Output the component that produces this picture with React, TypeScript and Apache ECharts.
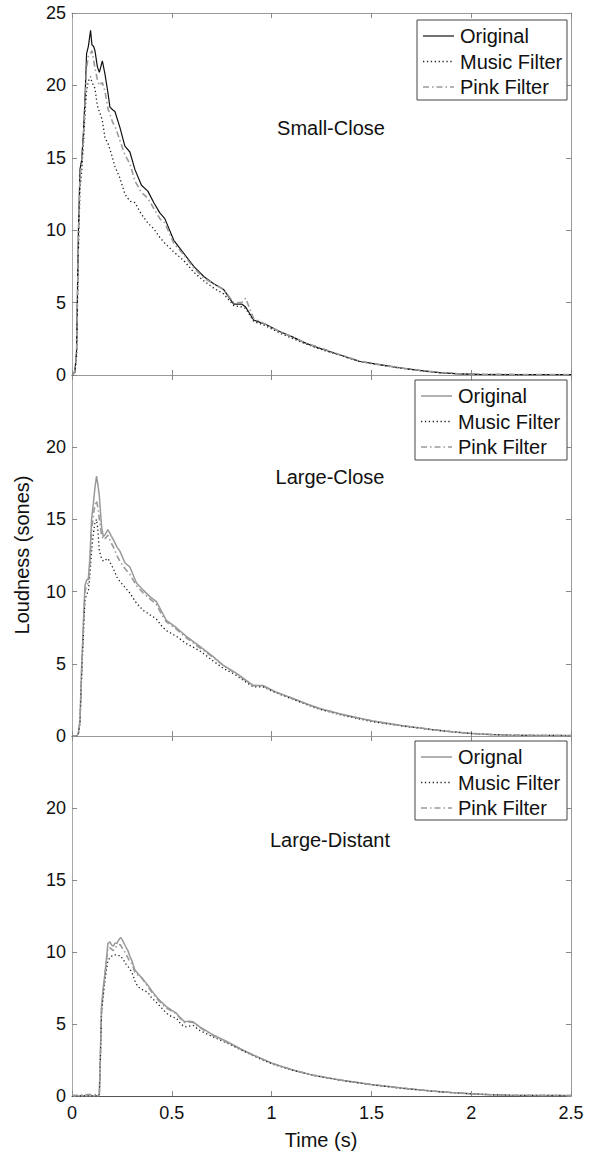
import React, { useEffect, useRef } from "react";
import * as echarts from "echarts";

// ---------- DATA ----------
const xTicks = [0, 0.5, 1, 1.5, 2, 2.5];
const yTicks = [0, 5, 10, 15, 20, 25];

const panelTitles = ["Small-Close", "Large-Close", "Large-Distant"];
const legendNames1 = ["Original", "Music Filter", "Pink Filter"];
const legendNames2 = ["Original", "Music Filter", "Pink Filter"];
const legendNames3 = ["Orignal", "Music Filter", "Pink Filter"];

// Panel 1: Small-Close
const t1 = [0, 0.005, 0.015, 0.023, 0.032, 0.04, 0.048, 0.057, 0.065, 0.073, 0.082, 0.093, 0.1, 0.108, 0.115, 0.127, 0.137, 0.152, 0.165, 0.18, 0.19, 0.205, 0.215, 0.24, 0.265, 0.29, 0.315, 0.348, 0.38, 0.41, 0.44, 0.465, 0.51, 0.56, 0.61, 0.66, 0.71, 0.76, 0.81, 0.85, 0.87, 0.91, 0.97, 1.04, 1.11, 1.17, 1.24, 1.34, 1.44, 1.54, 1.64, 1.74, 1.84, 1.94, 2.04, 2.2, 2.35, 2.5];
const sc_original = [0, 0, 0.3, 1.7, 9.8, 14.2, 14.8, 16.7, 19.0, 22.2, 22.7, 23.8, 22.8, 22.7, 22.4, 21.3, 20.9, 21.7, 20.8, 19.5, 18.5, 18.3, 18.2, 17.1, 15.8, 15.4, 14.2, 13.1, 12.7, 11.9, 11.2, 10.8, 9.3, 8.4, 7.5, 6.8, 6.3, 5.9, 4.9, 4.9, 4.7, 3.8, 3.5, 3.0, 2.6, 2.2, 1.85, 1.4, 0.95, 0.72, 0.5, 0.32, 0.17, 0.08, 0.04, 0.03, 0.03, 0.03];
const sc_music = [0, 0, 0.2, 1.3, 8.5, 12.8, 14.0, 15.8, 18.0, 19.6, 20.3, 20.6, 20.2, 20.0, 19.8, 18.6, 18.2, 17.6, 16.4, 16.0, 15.6, 14.9, 14.4, 13.6, 12.5, 12.0, 11.9, 11.1, 10.5, 10.1, 9.5, 9.1, 8.5, 7.9, 7.1, 6.5, 6.0, 5.6, 4.8, 4.7, 4.6, 3.7, 3.4, 2.9, 2.5, 2.15, 1.8, 1.38, 0.92, 0.7, 0.48, 0.3, 0.16, 0.08, 0.04, 0.03, 0.03, 0.03];
const sc_pink = [0, 0, 0.3, 1.6, 9.4, 13.8, 14.5, 16.3, 18.6, 21.2, 22.0, 22.2, 22.4, 21.8, 21.2, 20.4, 20.0, 20.2, 19.6, 18.4, 18.0, 17.4, 17.2, 16.2, 15.2, 14.6, 13.4, 12.6, 12.2, 11.5, 10.8, 10.5, 9.1, 8.3, 7.4, 6.7, 6.3, 5.9, 5.0, 5.0, 5.3, 3.9, 3.5, 3.0, 2.6, 2.2, 1.9, 1.42, 0.96, 0.73, 0.5, 0.33, 0.18, 0.09, 0.05, 0.04, 0.03, 0.03];

// Panel 2: Large-Close
const t2 = [0, 0.025, 0.032, 0.04, 0.048, 0.057, 0.065, 0.073, 0.082, 0.09, 0.098, 0.107, 0.115, 0.123, 0.13, 0.137, 0.148, 0.157, 0.168, 0.18, 0.195, 0.207, 0.225, 0.24, 0.265, 0.29, 0.323, 0.357, 0.39, 0.423, 0.45, 0.473, 0.523, 0.573, 0.64, 0.707, 0.757, 0.823, 0.907, 0.957, 1.02, 1.107, 1.17, 1.24, 1.35, 1.5, 1.65, 1.8, 1.9, 2.0, 2.1, 2.2, 2.35, 2.5];
const lc_original = [0, 0, 0.2, 1.1, 4.6, 7.8, 10.4, 10.8, 10.9, 12.4, 15.0, 16.1, 17.2, 18.0, 17.4, 16.6, 14.5, 13.8, 14.0, 14.3, 13.9, 13.6, 13.1, 12.8, 12.0, 11.7, 10.6, 10.1, 9.65, 9.3, 8.6, 8.0, 7.5, 6.9, 6.2, 5.5, 4.9, 4.35, 3.5, 3.5, 3.05, 2.6, 2.25, 1.9, 1.5, 1.05, 0.72, 0.45, 0.3, 0.18, 0.1, 0.06, 0.04, 0.03];
const lc_music = [0, 0, 0.15, 0.9, 4.0, 7.0, 9.4, 9.8, 10.0, 11.2, 12.8, 14.0, 14.8, 15.0, 14.2, 12.8, 12.3, 12.1, 12.2, 12.3, 11.9, 11.6, 11.0, 10.7, 10.3, 9.9, 9.2, 8.7, 8.4, 8.1, 7.6, 7.3, 6.9, 6.4, 5.9, 5.2, 4.7, 4.2, 3.4, 3.4, 3.0, 2.55, 2.2, 1.85, 1.45, 1.0, 0.7, 0.44, 0.3, 0.18, 0.1, 0.06, 0.04, 0.03];
const lc_pink = [0, 0, 0.2, 1.0, 4.4, 7.5, 10.0, 10.4, 10.6, 11.9, 14.2, 15.3, 16.0, 16.3, 15.8, 15.0, 13.9, 13.6, 13.7, 13.9, 13.4, 13.1, 12.5, 12.1, 11.6, 11.2, 10.4, 9.9, 9.5, 9.1, 8.4, 7.9, 7.4, 6.8, 6.1, 5.45, 4.9, 4.3, 3.5, 3.45, 3.05, 2.6, 2.25, 1.9, 1.5, 1.05, 0.72, 0.45, 0.3, 0.18, 0.1, 0.06, 0.04, 0.03];

// Panel 3: Large-Distant
const t3 = [0, 0.03, 0.06, 0.1, 0.13, 0.137, 0.14, 0.148, 0.157, 0.165, 0.173, 0.18, 0.19, 0.198, 0.207, 0.215, 0.225, 0.232, 0.243, 0.25, 0.257, 0.268, 0.28, 0.29, 0.3, 0.315, 0.33, 0.35, 0.38, 0.4, 0.423, 0.45, 0.473, 0.5, 0.523, 0.545, 0.565, 0.585, 0.607, 0.64, 0.707, 0.773, 0.84, 0.907, 1.007, 1.107, 1.207, 1.35, 1.5, 1.65, 1.8, 1.9, 2.0, 2.1, 2.2, 2.35, 2.5];
const ld_original = [0, 0, 0, 0, 0, 0.1, 1.6, 6.2, 7.6, 8.5, 9.6, 10.6, 10.7, 10.5, 10.4, 10.6, 10.6, 10.8, 11.0, 10.9, 10.7, 10.4, 10.1, 9.7, 9.4, 8.75, 8.5, 8.2, 7.7, 7.3, 6.9, 6.5, 6.2, 5.95, 5.75, 5.4, 5.15, 5.2, 5.15, 4.8, 4.25, 3.8, 3.3, 2.85, 2.25, 1.8, 1.45, 1.1, 0.8, 0.55, 0.35, 0.24, 0.15, 0.09, 0.05, 0.04, 0.03];
const ld_music = [0, 0, 0, 0, 0, 0.1, 1.4, 5.8, 7.0, 8.0, 8.8, 9.4, 9.6, 9.7, 9.8, 9.8, 9.8, 9.75, 9.75, 9.6, 9.5, 9.2, 9.0, 8.8, 8.6, 8.0, 7.6, 7.4, 7.2, 6.8, 6.5, 6.1, 5.75, 5.5, 5.4, 5.0, 4.8, 4.85, 4.9, 4.55, 4.1, 3.7, 3.25, 2.8, 2.2, 1.78, 1.43, 1.08, 0.78, 0.54, 0.34, 0.23, 0.15, 0.09, 0.05, 0.04, 0.03];
const ld_pink = [0.05, 0.05, 0.1, 0.1, 0.1, 0.15, 1.5, 6.0, 7.4, 8.3, 9.4, 10.3, 10.3, 10.2, 10.1, 10.3, 10.4, 10.5, 10.5, 10.3, 10.2, 9.9, 9.6, 9.3, 9.2, 8.6, 8.4, 8.2, 7.6, 7.2, 6.8, 6.4, 6.1, 5.9, 5.7, 5.35, 5.1, 5.15, 5.1, 4.75, 4.2, 3.75, 3.3, 2.85, 2.25, 1.8, 1.45, 1.1, 0.8, 0.55, 0.35, 0.24, 0.15, 0.09, 0.05, 0.04, 0.03];

// ---------- STYLE / LAYOUT ----------
const FONT = '"Liberation Sans", Arial, Helvetica, sans-serif';
const GRID_LEFT = 72;
const GRID_W = 499;
const grids = [
  { top: 13, height: 362 },
  { top: 375, height: 361 },
  { top: 736, height: 360 },
];
const titlePos = [
  { x: 331, y: 128 },
  { x: 330, y: 477 },
  { x: 330, y: 840 },
];
const legendBoxes = [
  { x: 417, y: 20, w: 150, h: 80 },
  { x: 415, y: 380, w: 152, h: 80 },
  { x: 415, y: 741, w: 152, h: 79 },
];

const origStyles = [
  { color: "#111", width: 1.2, type: "solid" as any },
  { color: "#999", width: 1.5, type: "solid" as any },
  { color: "#999", width: 1.5, type: "solid" as any },
];
const musicStyle = { color: "#222", width: 1.3, type: [1.3, 2.6] as any };
const pinkStyle = { color: "#9a9a9a", width: 1.6, type: [6, 3, 1.5, 3] as any };

function pairs(t: number[], v: number[]) {
  return t.map((x, i) => [x, v[i]]);
}

export default function App() {
  const ref = useRef<HTMLDivElement>(null);

  useEffect(() => {
    document.body.style.margin = "0";
    if (!ref.current) return;
    const chart = echarts.init(ref.current, undefined, { renderer: "svg" });

    const panelData = [
      { t: t1, o: sc_original, m: sc_music, p: sc_pink, names: legendNames1 },
      { t: t2, o: lc_original, m: lc_music, p: lc_pink, names: legendNames2 },
      { t: t3, o: ld_original, m: ld_music, p: ld_pink, names: legendNames3 },
    ];

    const xAxis: any[] = [];
    const yAxis: any[] = [];
    const series: any[] = [];
    const graphic: any[] = [];

    panelData.forEach((pd, i) => {
      const tickStyle = { show: true, inside: true, length: 5, lineStyle: { color: "#888", width: 1 } };
      xAxis.push({
        type: "value",
        gridIndex: i,
        position: "bottom",
        min: xTicks[0],
        max: xTicks[xTicks.length - 1],
        interval: 0.5,
        axisLine: { show: true, onZero: false, lineStyle: { color: "#555", width: 1 } },
        axisTick: tickStyle,
        splitLine: { show: false },
        axisLabel: {
          show: i === 2,
          fontSize: 18,
          fontFamily: FONT,
          color: "#111",
          margin: 8,
          formatter: (v: number) => String(v),
        },
      });
      xAxis.push({
        type: "value",
        gridIndex: i,
        position: "top",
        min: xTicks[0],
        max: xTicks[xTicks.length - 1],
        interval: 0.5,
        axisLine: { show: true, onZero: false, lineStyle: { color: "#999", width: 1 } },
        axisTick: tickStyle,
        splitLine: { show: false },
        axisLabel: { show: false },
      });
      yAxis.push({
        type: "value",
        gridIndex: i,
        position: "left",
        min: yTicks[0],
        max: yTicks[yTicks.length - 1],
        interval: 5,
        axisLine: { show: true, onZero: false, lineStyle: { color: "#aaa", width: 1 } },
        axisTick: tickStyle,
        splitLine: { show: false },
        axisLabel: {
          fontSize: 18,
          fontFamily: FONT,
          color: "#111",
          margin: 6,
          formatter: (v: number) => (i > 0 && v === 25 ? "" : String(v)),
        },
      });
      yAxis.push({
        type: "value",
        gridIndex: i,
        position: "right",
        min: yTicks[0],
        max: yTicks[yTicks.length - 1],
        interval: 5,
        axisLine: { show: true, onZero: false, lineStyle: { color: "#999", width: 1 } },
        axisTick: tickStyle,
        splitLine: { show: false },
        axisLabel: { show: false },
      });

      const common = {
        type: "line",
        xAxisIndex: 2 * i,
        yAxisIndex: 2 * i,
        symbol: "none",
        showSymbol: false,
        silent: true,
        animation: false,
      };
      series.push({ ...common, name: pd.names[0], data: pairs(pd.t, pd.o), lineStyle: origStyles[i], z: 2 });
      series.push({ ...common, name: pd.names[1], data: pairs(pd.t, pd.m), lineStyle: musicStyle, z: 3 });
      series.push({ ...common, name: pd.names[2], data: pairs(pd.t, pd.p), lineStyle: pinkStyle, z: 4 });

      // panel title
      graphic.push({
        type: "text",
        x: titlePos[i].x,
        y: titlePos[i].y,
        z: 10,
        style: {
          text: panelTitles[i],
          font: `20px ${FONT}`,
          fill: "#111",
          align: "center",
          verticalAlign: "middle",
        },
      });

      // legend box
      const lb = legendBoxes[i];
      graphic.push({
        type: "rect",
        z: 10,
        shape: { x: lb.x, y: lb.y, width: lb.w, height: lb.h },
        style: { fill: "#fff", stroke: "#444", lineWidth: 1 },
      });
      const lineStyles = [origStyles[i], musicStyle, pinkStyle];
      pd.names.forEach((nm, k) => {
        const cy = lb.y + 16 + k * 25.5;
        const ls = lineStyles[k];
        graphic.push({
          type: "line",
          z: 11,
          shape: { x1: lb.x + 6, y1: cy, x2: lb.x + 37, y2: cy },
          style: {
            stroke: ls.color,
            lineWidth: ls.width,
            lineDash: Array.isArray(ls.type) ? ls.type : null,
          },
        });
        graphic.push({
          type: "text",
          z: 11,
          x: lb.x + 43,
          y: cy,
          style: {
            text: nm,
            font: `20px ${FONT}`,
            fill: "#111",
            align: "left",
            verticalAlign: "middle",
          },
        });
      });
    });

    graphic.push({
      type: "text",
      x: 22,
      y: 555,
      rotation: Math.PI / 2,
      style: {
        text: "Loudness (sones)",
        font: `20px ${FONT}`,
        fill: "#111",
        align: "center",
        verticalAlign: "middle",
      },
    });
    graphic.push({
      type: "text",
      x: 321,
      y: 1140,
      style: {
        text: "Time (s)",
        font: `20px ${FONT}`,
        fill: "#111",
        align: "center",
        verticalAlign: "middle",
      },
    });

    chart.setOption({
      animation: false,
      backgroundColor: "#fff",
      grid: grids.map((g) => ({ left: GRID_LEFT, width: GRID_W, top: g.top, height: g.height, containLabel: false })),
      xAxis,
      yAxis,
      series,
      graphic,
    });

    return () => chart.dispose();
  }, []);

  return <div ref={ref} style={{ width: 597, height: 1155 }} />;
}
